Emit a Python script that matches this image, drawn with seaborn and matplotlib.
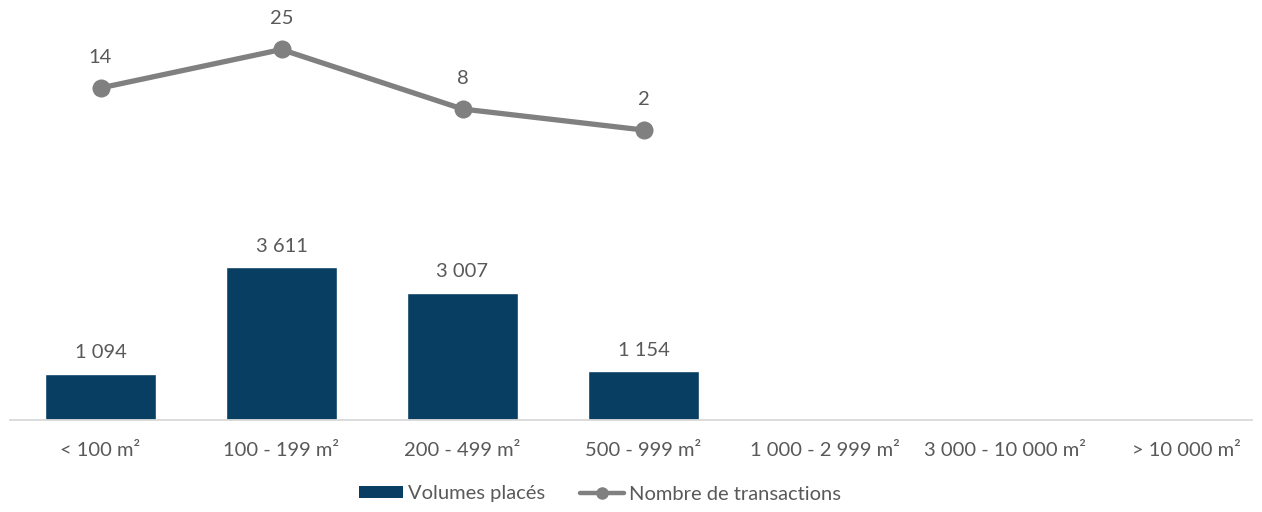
import matplotlib
matplotlib.use("Agg")
import matplotlib.pyplot as plt
import seaborn as sns
import numpy as np
from matplotlib.patches import Patch
from matplotlib.lines import Line2D

categories = ["< 100 m²", "100 - 199 m²", "200 - 499 m²", "500 - 999 m²",
              "1 000 - 2 999 m²", "3 000 - 10 000 m²", "> 10 000 m²"]
volumes = [1094, 3611, 3007, 1154, 0, 0, 0]
volume_labels = ["1 094", "3 611", "3 007", "1 154"]
transactions = [14, 25, 8, 2]

bar_color = "#073E62"
line_color = "#808080"
text_color = "#595959"

sns.set_style("white")
plt.rcParams["font.family"] = ["Lato", "DejaVu Sans"]
fs = 14.5

fig = plt.figure(figsize=(12.62, 5.12), dpi=100)
ax = fig.add_axes([10 / 1262, 1 - 420 / 512, 1242 / 1262, 410 / 512])

sns.barplot(x=categories, y=volumes, color=bar_color, width=0.61,
            saturation=1, ax=ax)
ax.set_xlim(-0.5, -0.5 + 1242 / 181)
ax.set_ylim(0, 410 / 0.0424)

for i, lab in enumerate(volume_labels):
    ax.annotate(lab, (i, volumes[i]), xytext=(0, 15), textcoords="offset points",
                ha="center", va="center", fontsize=fs, color=text_color)

ax2 = ax.twinx()
sns.lineplot(x=np.arange(len(transactions)), y=transactions, color=line_color,
             linewidth=3.8, marker="o", markersize=13, markeredgewidth=0,
             ax=ax2)
ax2.set_ylim(-(420 - 137) / 3.5, (137 - 10) / 3.5)
ax2.set_xlim(-0.5, -0.5 + 1242 / 181)
for i, v in enumerate(transactions):
    ax2.annotate(str(v), (i, v), xytext=(0, 22), textcoords="offset points",
                 ha="center", va="center", fontsize=fs, color=text_color)

for a in (ax, ax2):
    a.set_yticks([])
    a.set_ylabel("")
    for s in ["top", "left", "right", "bottom"]:
        a.spines[s].set_visible(False)

ax.spines["bottom"].set_visible(True)
ax.spines["bottom"].set_color("#D9D9D9")
ax.spines["bottom"].set_linewidth(1.3)
ax.tick_params(axis="x", length=0, pad=16, labelsize=fs, labelcolor=text_color)

handles = [Patch(facecolor=bar_color, edgecolor="none", label="Volumes placés"),
           Line2D([0], [0], color=line_color, linewidth=3.2, marker="o",
                  markersize=8, label="Nombre de transactions")]
fig.legend(handles=handles, loc="center", bbox_to_anchor=(600 / 1262, 1 - 494 / 512),
           ncol=2, frameon=False, fontsize=fs, labelcolor=text_color,
           handlelength=2.2, handleheight=0.55, handletextpad=0.25,
           columnspacing=1.7)

fig.savefig("out.png", dpi=100)
